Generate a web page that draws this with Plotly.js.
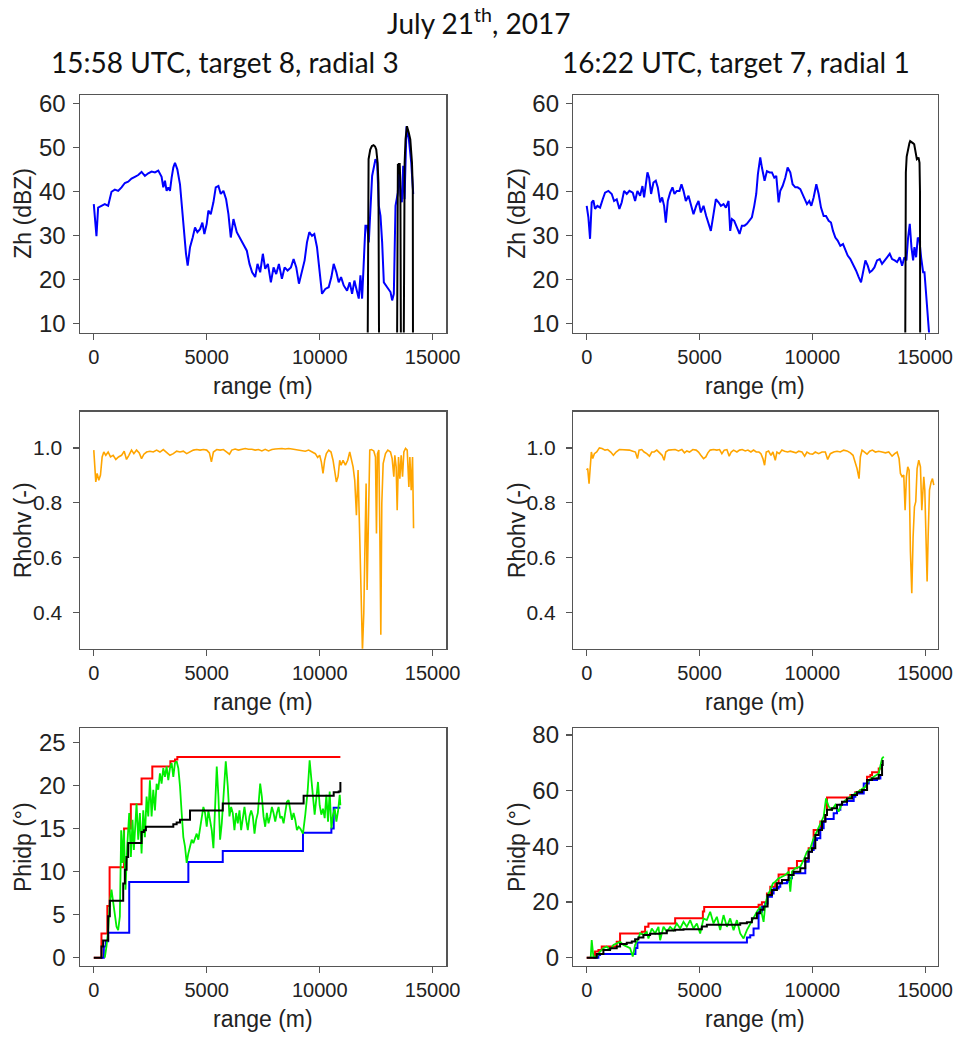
<!DOCTYPE html>
<html>
<head>
<meta charset="utf-8">
<script src="https://cdn.plot.ly/plotly-3.0.1.min.js"></script>
<style>html,body{margin:0;padding:0;background:#fff;}#chart{width:958px;height:1037px;}</style>
</head>
<body>
<div id="chart"></div>
<script>
// ---------- Data (range in m) ----------
// Top-left: Zh (dBZ), 15:58 UTC
var zhL_x = [0,59,118,192,340,488,636,784,932,1080,1228,1375,1523,1671,1819,1967,2115,2263,2411,2559,2707,2855,3002,3076,3150,3224,3298,3372,3446,3520,3594,3698,3816,3890,3993,4082,4156,4260,4378,4481,4585,4703,4807,4895,4999,5073,5177,5295,5398,5517,5620,5739,5857,5960,6064,6182,6330,6478,6626,6774,6892,7010,7144,7247,7365,7484,7587,7706,7839,7957,8075,8194,8327,8445,8578,8726,8844,8963,9081,9214,9332,9436,9540,9658,9761,9880,9983,10102,10249,10397,10516,10619,10738,10841,10945,11063,11211,11329,11433,11536,11625,11729,11803,11877,12024,12098,12172,12320,12468,12542,12616,12690,12764,12838,12986,13134,13207,13281,13355,13458,13518,13577,13636,13695,13755,13843,13947,14051,14139];
var zhL_y = [37.2,34.2,29.9,36.4,36.8,37.2,36.8,40.0,40.5,40.2,41.0,42.0,42.3,43.0,43.4,43.8,44.5,43.6,44.2,44.6,44.4,44.8,43.4,41.0,42.5,40.2,41.0,40.2,43.2,45.5,46.6,45.1,41.7,37.2,30.4,25.9,23.2,27.4,29.6,31.9,30.8,31.5,33.0,30.4,32.7,35.7,34.9,37.6,41.0,41.3,39.5,40.2,38.3,34.9,29.6,33.8,30.8,29.3,28.1,26.6,23.6,21.7,20.6,23.6,21.7,25.9,22.5,23.6,19.4,22.8,21.3,23.6,20.2,22.8,22.1,22.8,24.7,22.8,19.1,21.7,24.4,28.5,30.8,30.0,30.4,27.4,22.1,16.8,17.9,18.3,20.6,23.6,21.7,19.4,20.6,18.7,17.5,19.4,16.8,19.8,17.9,15.7,21.0,15.7,32.3,32.3,28.5,43.6,47.4,46.6,36.8,34.5,28.5,19.4,18.3,17.2,15.3,16.8,36.8,39.8,45.9,39.1,37.6,45.9,38.3,54.9,51.9,46.6,39.5];
var zhbL_x = [12119,12140,12163,12237,12310,12385,12450,12503,12563,12600,12630,12640,13420,13435,13460,13480,13500,13540,13570,13597,13650,13715,13740,13759,13800,13862,13940,14010,14084,14120,14130];
var zhbL_y = [0,44,47.4,49.6,50.4,50.6,50.3,49.6,46.6,42,0,null,0,44,46.3,44,46.3,46.3,42,0,null,0,40,46.6,52,54.9,53.5,51.9,46.6,40.6,0];

// Top-right: Zh (dBZ), 16:22 UTC
var zhR_x = [0,74,148,222,296,370,473,592,710,813,961,1109,1213,1331,1449,1553,1656,1775,1893,2041,2145,2248,2366,2470,2544,2633,2692,2766,2854,2958,3061,3150,3254,3343,3431,3505,3594,3698,3801,3890,3993,4112,4200,4289,4393,4511,4615,4733,4851,4955,5058,5177,5295,5398,5502,5620,5724,5842,5946,6064,6167,6286,6360,6434,6537,6656,6774,6877,6996,7099,7218,7321,7425,7513,7587,7691,7765,7883,7987,8105,8208,8312,8401,8504,8578,8682,8800,8904,9022,9125,9244,9348,9466,9569,9658,9761,9865,9954,10057,10176,10279,10383,10501,10605,10723,10826,10915,11019,11122,11240,11359,11462,11566,11684,11802,11935,12054,12157,12246,12350,12453,12542,12645,12749,12867,12986,13089,13193,13311,13429,13533,13651,13755,13873,13977,14080,14169,14243,14317,14391,14465,14524,14598,14672,14746,14820,14909,14968,15042,15116,15175];
var zhR_y = [36.8,34.2,29.3,37.6,38.0,36.1,36.8,36.4,38.3,39.8,40.2,39.5,37.9,38.3,36.1,37.6,40.2,39.5,40.2,39.8,37.9,40.2,39.1,41.3,38.7,41.7,44.4,43.2,39.5,42.1,42.5,41.0,37.6,38.7,36.8,33.0,37.9,39.8,41.0,39.5,40.2,40.2,41.7,40.2,37.9,39.1,36.8,34.9,36.8,37.9,35.3,36.8,34.5,32.7,31.1,34.9,38.3,37.6,36.8,37.2,36.4,37.9,31.1,33.8,33.4,31.9,30.4,32.3,32.3,32.7,33.4,34.2,36.8,39.5,44.0,47.8,45.5,42.5,44.7,44.4,44.4,43.2,43.6,37.6,40.2,41.3,43.2,45.5,44.4,41.7,41.0,41.0,40.6,39.5,38.3,37.2,37.9,36.8,38.7,41.7,39.5,36.4,34.5,34.5,33.4,33.0,31.1,29.6,28.9,27.7,28.1,27.0,25.5,24.7,23.6,22.1,20.6,19.4,21.7,24.4,23.2,21.7,22.1,22.8,24.4,24.7,23.6,24.4,25.1,25.9,24.7,24.4,24.0,25.1,23.2,25.1,24.4,29.6,32.7,27.4,24.4,27.4,25.1,29.6,28.9,25.1,21.7,21.7,16.0,10.8,7.7];
var zhbR_x = [14113,14130,14143,14180,14232,14300,14335,14409,14470,14513,14560,14600,14631,14680,14705,14749,14770,14779];
var zhbR_y = [0,40,44.4,48,49.7,51,51.5,51.3,51,50.8,49.5,48.5,47.4,47.6,47.8,46.6,40,0];

// Middle-left: Rhohv (-)
var rhoL_x = [0,44,89,148,222,296,370,444,532,636,740,858,976,1094,1228,1346,1449,1553,1671,1775,1893,2011,2115,2219,2337,2485,2633,2781,2928,3076,3224,3372,3520,3668,3816,3964,4112,4260,4407,4555,4703,4851,4999,5117,5206,5295,5443,5591,5739,5887,6005,6108,6256,6404,6552,6700,6848,6996,7144,7291,7439,7587,7735,7883,8031,8179,8327,8475,8623,8770,8918,9066,9214,9362,9510,9658,9806,9909,9998,10072,10146,10220,10294,10397,10501,10590,10679,10738,10812,10885,10945,11033,11137,11240,11329,11403,11477,11551,11625,11699,11773,11832,11892,11951,12010,12054,12098,12157,12216,12290,12394,12468,12512,12557,12616,12660,12705,12749,12808,12912,13015,13134,13207,13281,13325,13384,13429,13488,13547,13606,13666,13725,13799,13873,13947,13991,14050,14109,14154];
var rhoL_y = [0.992,0.931,0.876,0.907,0.882,0.901,0.967,0.985,0.973,0.985,0.967,0.973,0.958,0.967,0.973,0.988,0.958,0.973,0.992,0.979,0.992,0.982,0.961,0.977,0.985,0.988,0.985,0.992,0.985,0.994,0.985,0.973,0.979,0.988,0.985,0.988,0.979,0.985,0.992,0.994,0.992,0.994,0.992,0.982,0.949,0.985,0.994,0.992,0.994,0.985,0.977,0.992,0.996,0.992,0.994,0.998,0.995,0.995,0.992,0.994,0.989,0.995,0.989,0.994,0.996,0.998,0.998,0.996,0.998,0.996,0.994,0.992,0.992,0.988,0.992,0.985,0.979,0.965,0.973,0.949,0.907,0.955,0.979,0.992,0.985,0.955,0.913,0.876,0.895,0.955,0.937,0.955,0.937,0.955,0.985,0.955,0.931,0.882,0.755,0.919,0.598,0.470,0.260,0.398,0.676,0.870,0.482,0.773,0.992,0.994,0.989,0.967,0.688,0.979,0.992,0.701,0.319,0.798,0.943,0.979,0.992,0.985,0.961,0.895,0.973,0.931,0.773,0.967,0.888,0.973,0.895,0.985,0.998,0.992,0.858,0.967,0.846,0.967,0.707];

// Middle-right: Rhohv (-)
var rhoR_x = [0,44,104,148,207,266,340,444,562,680,813,932,1065,1183,1302,1449,1597,1745,1893,2041,2159,2248,2322,2440,2544,2662,2781,2884,2988,3106,3224,3343,3431,3505,3624,3771,3919,4067,4215,4333,4437,4555,4703,4851,4955,5058,5177,5280,5369,5472,5620,5768,5887,5990,6094,6212,6315,6404,6508,6656,6774,6892,7025,7144,7277,7395,7513,7632,7720,7809,7883,7957,8061,8164,8253,8356,8430,8534,8652,8770,8904,9022,9140,9273,9392,9540,9658,9761,9880,10013,10131,10279,10427,10575,10679,10797,10945,11093,11240,11388,11536,11684,11802,11891,11980,12069,12128,12202,12305,12423,12542,12660,12793,12941,13089,13237,13385,13533,13651,13755,13843,13903,13977,14051,14110,14169,14228,14287,14346,14406,14465,14524,14583,14642,14716,14790,14850,14894,14938,14983,15042,15086,15131,15190,15264,15323,15382];
var rhoR_y = [0.919,0.925,0.870,0.931,0.985,0.961,0.979,0.985,1.000,0.998,0.992,0.994,0.985,0.973,0.985,0.994,0.994,0.994,0.992,0.988,0.985,0.961,0.992,0.994,0.985,0.979,0.970,0.985,0.985,0.992,0.982,0.973,0.955,0.985,0.992,0.992,0.994,0.989,0.994,0.982,0.989,0.985,0.994,0.992,0.985,0.973,0.961,0.967,0.982,0.992,0.994,0.992,0.994,0.979,0.992,0.994,0.970,0.985,0.992,0.985,0.992,0.994,0.989,0.992,0.985,0.992,0.985,0.985,0.979,0.961,0.937,0.985,0.989,0.973,0.985,0.955,0.985,0.979,0.992,0.988,0.985,0.988,0.985,0.982,0.988,0.985,0.970,0.985,0.979,0.977,0.985,0.979,0.985,0.985,0.958,0.979,0.985,0.988,0.985,0.992,0.989,0.982,0.973,0.949,0.925,0.888,0.967,0.992,0.985,0.977,0.988,0.992,0.985,0.988,0.985,0.982,0.985,0.970,0.979,0.985,0.961,0.907,0.895,0.901,0.773,0.895,0.931,0.919,0.622,0.470,0.676,0.785,0.804,0.925,0.955,0.931,0.773,0.822,0.895,0.846,0.628,0.513,0.676,0.846,0.876,0.888,0.864];

// Bottom-left: Phidp (deg)
var phRL_x = [0,300,340,600,700,1340,1640,2115,2590,3390,3594,3698,10915];
var phRL_y = [0,0,2.8,6.0,10.5,15.0,17.8,20.8,22.2,22.8,23.0,23.3,23.3];
var phBL_x = [300,444,532,636,1568,4186,5709,9259,10516,10619,10915];
var phBL_y = [0,1.3,1.9,2.9,8.8,11.1,12.4,14.5,15.0,17.4,17.4];
var phKL_x = [0,300,340,414,560,636,710,1302,1375,1449,1523,2115,2219,2307,3520,3668,3816,4260,5709,9288,10619,10841,10915];
var phKL_y = [0,0,1.3,2.0,2.0,4.8,6.6,8.6,10.2,11.7,13.3,14.6,14.8,15.2,15.5,15.7,16.0,17.1,17.9,18.8,19.2,19.3,20.4];
var phGL_x = [488,562,636,710,784,858,932,1006,1080,1154,1213,1272,1331,1405,1479,1568,1642,1716,1775,1834,1893,1967,2041,2115,2189,2263,2337,2411,2485,2559,2633,2707,2781,2855,2928,3002,3076,3150,3224,3298,3372,3446,3520,3594,3668,3742,3816,3890,3964,4038,4112,4186,4260,4334,4407,4481,4555,4629,4703,4777,4851,4925,4999,5073,5147,5221,5295,5369,5443,5517,5591,5665,5739,5842,5931,6005,6079,6152,6226,6300,6374,6448,6522,6596,6670,6744,6818,6892,6966,7040,7114,7188,7262,7365,7439,7513,7587,7661,7735,7809,7883,7957,8031,8105,8179,8253,8327,8401,8475,8549,8623,8697,8770,8844,8918,8992,9066,9140,9259,9362,9465,9554,9628,9702,9776,9850,9924,9998,10072,10146,10220,10294,10368,10442,10516,10590,10664,10738,10812,10886,10915];
var phGL_y = [0,1.3,3.2,6.3,7.9,6.3,4.8,3.6,3.2,4.8,14.8,11.0,14.8,7.9,12.9,16.8,11.7,16.0,12.5,14.8,17.9,13.7,16.8,12.1,17.1,14.0,18.7,16.4,20.6,16.4,19.5,17.1,20.2,19.5,21.4,20.2,22.0,21.0,22.2,20.6,22.0,22.6,21.0,22.6,22.8,22.0,19.9,16.8,14.0,12.9,11.0,12.1,13.1,13.7,13.3,14.0,14.4,13.7,14.8,16.0,17.5,16.8,15.2,17.1,16.0,14.8,12.7,18.7,22.2,18.7,13.7,15.6,18.7,22.8,19.9,16.4,17.5,16.8,14.8,16.8,15.6,17.1,14.8,16.4,17.5,16.0,14.8,16.4,17.1,16.4,14.4,16.0,16.8,20.2,18.7,16.4,15.2,16.8,15.6,16.4,17.5,16.8,15.8,16.8,17.5,16.2,16.4,15.6,17.1,18.1,18.3,17.1,16.0,16.8,16.0,14.8,15.2,15.0,14.4,16.6,19.3,22.9,21.0,18.5,16.6,18.5,20.4,17.7,16.6,17.3,16.2,18.9,15.8,19.3,15.0,16.6,17.3,15.8,17.0,18.9,17.7];

// Bottom-right: Phidp (deg)
var phRR_x = [0,370,518,666,1331,1479,2440,2588,2736,3919,5147,5206,7617,7765,7987,8135,8356,8504,8948,9318,9835,10057,10353,10575,10649,11684,11906,12128,12424,12572,12646,12941,13089];
var phRR_y = [0,2.2,2.8,4.0,5.7,8.7,9.3,11.1,12.3,14.2,16.6,18.2,19.0,19.9,23.1,25.5,26.7,29.9,32.1,34.7,39.3,45.9,48.9,51.3,57.5,58.4,59.4,60.2,65.0,65.6,66.6,68.0,68.0];
var phBR_x = [296,518,592,2160,2248,6900,7100,7247,7395,7617,7765,7913,8016,8208,8282,8504,8578,8874,8948,9096,9687,9835,9983,10057,10205,10353,10501,10575,10945,11093,11240,11536,11832,11906,12276,12498,12867,13015,13089];
var phBR_y = [0,1.0,1.3,3.5,5.5,5.5,7.3,8.1,10.5,16.5,18.3,19.5,21.9,23.1,24.9,25.5,26.7,27.3,28.5,30.3,34.5,38.1,38.7,42.3,42.9,46.5,48.9,49.8,51.9,53.1,54.9,56.3,57.8,59.0,62.6,63.8,64.4,65.6,65.6];
var phKR_x = [0,296,444,740,1035,1331,1479,1775,1997,2145,2292,2514,2810,3254,3550,3919,4289,4733,5103,5324,5768,6508,6803,7099,7321,7543,7691,7839,8016,8208,8430,8652,8948,9170,9466,9687,9835,9983,10131,10279,10427,10575,10649,10871,11093,11314,11536,11758,11980,12202,12424,12646,12941,13089,13119];
var phKR_y = [0,0,1.3,2.8,3.4,4.0,4.9,5.4,5.8,6.6,7.3,8.2,8.6,8.8,9.8,10.0,10.2,10.2,11.2,11.8,11.8,11.8,12.4,12.7,14.2,16.0,17.2,18.4,22.5,24.3,26.7,27.9,29.7,30.9,32.1,35.7,38.1,39.3,44.1,45.9,48.9,51.3,53.1,53.7,54.9,56.0,57.2,58.4,59.4,60.2,63.8,64.4,65.6,69.2,71.0];
var phGR_x = [177,222,296,444,592,740,887,1035,1183,1331,1479,1627,1775,1923,2041,2145,2292,2366,2514,2662,2736,2884,3032,3180,3254,3402,3550,3698,3845,3993,4141,4289,4437,4585,4733,4881,5029,5177,5324,5472,5620,5768,5916,6064,6212,6360,6508,6656,6803,6951,7099,7247,7395,7543,7691,7839,7913,8016,8135,8253,8356,8504,8652,8800,8948,9022,9096,9244,9466,9614,9761,9909,10057,10205,10353,10501,10605,10723,10871,11019,11166,11314,11462,11684,11906,12128,12350,12498,12720,12941,13089,13163];
var phGR_y = [0,6.3,0.4,0.4,2.2,3.4,4.0,2.8,4.6,5.1,5.7,4.6,4.0,3.4,0.4,4.6,6.9,8.8,8.2,9.3,6.9,10.5,8.7,11.1,6.3,11.1,9.3,11.1,9.9,12.3,10.5,12.9,11.1,13.5,10.5,12.3,8.7,14.1,13.5,16.5,12.3,14.7,9.9,15.3,11.1,14.1,9.9,13.5,8.7,6.9,9.9,12.3,14.1,16.5,18.3,12.9,18.9,22.5,24.3,26.7,27.3,28.5,29.1,29.7,30.9,23.7,30.9,32.1,32.7,35.1,38.1,39.3,42.9,45.3,47.7,50.7,57.2,54.3,53.1,54.9,52.5,55.4,56.6,57.8,59.0,59.9,61.4,63.8,65.0,66.2,71.6,72.2];

var xTicks = [0, 5000, 10000, 15000];
var zhTicks = [10, 20, 30, 40, 50, 60];
var rhoTicks = [0.4, 0.6, 0.8, 1.0];
var phLTicks = [0, 5, 10, 15, 20, 25];
var phRTicks = [0, 20, 40, 60, 80];
var titleMain = 'July 21<sup>th</sup>, 2017';
var titleLeft = '15:58 UTC, target 8, radial 3';
var titleRight = '16:22 UTC, target 7, radial 1';
var xLabel = 'range (m)';
var yLabels = ['Zh (dBZ)', 'Rhohv (-)', 'Phidp (°)'];

// ---------- Build ----------
var W = 958, H = 1037;
function px(x){ return x / W; }
function py(y){ return 1 - y / H; }

function tr(x, y, color, width, ax, shape){
  return {x: x, y: y, type: 'scatter', mode: 'lines', xaxis: 'x' + ax, yaxis: 'y' + ax,
    line: {color: color, width: width, shape: shape || 'linear'}, connectgaps: false, hoverinfo: 'skip', showlegend: false};
}

var data = [
  tr(zhL_x, zhL_y, '#0000ff', 2, '', null),
  tr(zhbL_x, zhbL_y, '#000000', 2, '', null),
  tr(zhR_x, zhR_y, '#0000ff', 2, '2', null),
  tr(zhbR_x, zhbR_y, '#000000', 2, '2', null),
  tr(rhoL_x, rhoL_y, '#ffa500', 1.6, '3', null),
  tr(rhoR_x, rhoR_y, '#ffa500', 1.6, '4', null),
  tr(phRL_x, phRL_y, '#ff0000', 2, '5', 'hv'),
  tr(phBL_x, phBL_y, '#0000ff', 2, '5', 'hv'),
  tr(phGL_x, phGL_y, '#00ee00', 1.8, '5', null),
  tr(phKL_x, phKL_y, '#000000', 2, '5', 'hv'),
  tr(phRR_x, phRR_y, '#ff0000', 2, '6', 'hv'),
  tr(phBR_x, phBR_y, '#0000ff', 2, '6', 'hv'),
  tr(phGR_x, phGR_y, '#00ee00', 1.8, '6', null),
  tr(phKR_x, phKR_y, '#000000', 2, '6', 'hv')
];

var baseFam = 'Liberation Sans, Arial, sans-serif';
function xa(dom, range){
  return {domain: dom, range: range, tickvals: xTicks, ticktext: xTicks.map(String), ticks: 'outside', ticklen: 6, tickwidth: 1.3,
    tickcolor: '#555', showline: true, mirror: true, linecolor: '#555', linewidth: 1.5, showgrid: false, zeroline: false,
    tickfont: {family: baseFam, size: 20, color: '#222'}, fixedrange: true};
}
function ya(dom, range, tv, fmt, fsize, standoff){
  return {domain: dom, range: range, tickvals: tv, ticktext: tv.map(function(v){ return fmt ? v.toFixed(1) : String(v); }),
    ticks: 'outside', ticklen: 6, tickwidth: 1.3, tickcolor: '#555', showline: true, mirror: true, linecolor: '#555',
    linewidth: 1.5, showgrid: false, zeroline: false, tickfont: {family: baseFam, size: fsize, color: '#222'},
    ticklabelstandoff: standoff, fixedrange: true};
}

var XL = [px(80), px(446)], XR = [px(573.3), px(937.5)];
var R1 = [py(332.5), py(95)], R2 = [py(648.7), py(411.7)], R3 = [py(965.7), py(728.3)];
var rxL = [-610, 15590], rxR = [-594, 15546];

var layout = {
  width: W, height: H, margin: {l: 0, r: 0, t: 0, b: 0}, paper_bgcolor: '#fff', plot_bgcolor: '#fff', showlegend: false,
  xaxis:  Object.assign(xa(XL, rxL), {anchor: 'y'}),
  yaxis:  Object.assign(ya(R1, [8, 62], zhTicks, false, 24, 2), {anchor: 'x'}),
  xaxis2: Object.assign(xa(XR, rxR), {anchor: 'y2'}),
  yaxis2: Object.assign(ya(R1, [8, 62], zhTicks, false, 24, 2), {anchor: 'x2'}),
  xaxis3: Object.assign(xa(XL, rxL), {anchor: 'y3'}),
  yaxis3: Object.assign(ya(R2, [0.268, 1.132], rhoTicks, true, 21, 6), {anchor: 'x3'}),
  xaxis4: Object.assign(xa(XR, rxR), {anchor: 'y4'}),
  yaxis4: Object.assign(ya(R2, [0.268, 1.132], rhoTicks, true, 21, 6), {anchor: 'x4'}),
  xaxis5: Object.assign(xa(XL, rxL), {anchor: 'y5'}),
  yaxis5: Object.assign(ya(R3, [-0.93, 26.63], phLTicks, false, 24, 2), {anchor: 'x5'}),
  xaxis6: Object.assign(xa(XR, rxR), {anchor: 'y6'}),
  yaxis6: Object.assign(ya(R3, [-2.87, 82.4], phRTicks, false, 24, 2), {anchor: 'x6'}),
  annotations: []
};

var titleFont = {family: 'Lato, Calibri, sans-serif', size: 28, color: '#111'};
var labFont = {family: baseFam, size: 23, color: '#222'};
function ann(text, x, y, font, angle){
  layout.annotations.push({text: text, xref: 'paper', yref: 'paper', x: px(x), y: py(y), xanchor: 'center', yanchor: 'middle',
    showarrow: false, font: font, textangle: angle || 0});
}
ann(titleMain, 479, 22, titleFont);
ann(titleLeft, 225, 62, titleFont);
ann(titleRight, 736, 62, titleFont);
// x-axis titles
[332.5, 648.7, 965.7].forEach(function(b){
  ann(xLabel, 263, b + 53, labFont);
  ann(xLabel, 755.4, b + 53, labFont);
});
// y-axis titles
var rowsC = [213.7, 530.2, 847];
rowsC.forEach(function(c, i){
  ann(yLabels[i], 23, c, labFont, -90);
  ann(yLabels[i], 517, c, labFont, -90);
});

Plotly.newPlot('chart', data, layout, {staticPlot: true, displayModeBar: false});
</script>
</body>
</html>
